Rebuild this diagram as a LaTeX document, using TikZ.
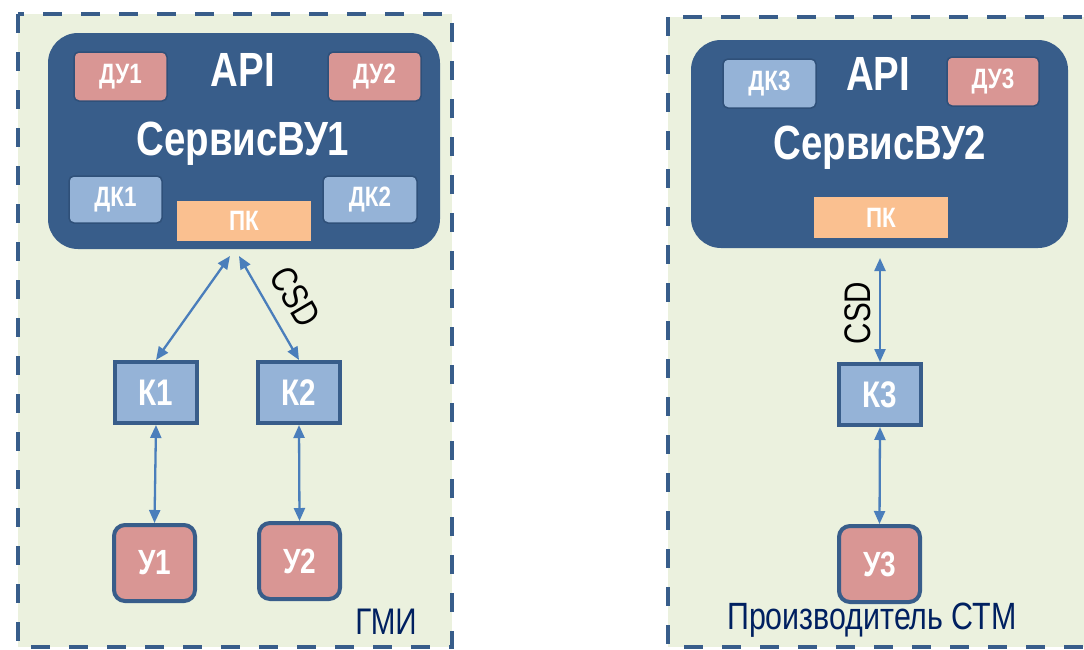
\documentclass[tikz,border=0pt]{standalone}
\usepackage{fontspec}
\setmainfont{Liberation Sans}[FakeStretch=0.8]
\usetikzlibrary{arrows.meta}
\definecolor{svc}{HTML}{385D8A}
\definecolor{svcedge}{HTML}{2F5079}
\definecolor{kblue}{HTML}{95B3D7}
\definecolor{upink}{HTML}{D99694}
\definecolor{pko}{HTML}{FAC090}
\definecolor{bgreen}{HTML}{EBF1DE}
\definecolor{arrowc}{HTML}{4A7EBB}
\definecolor{navy}{HTML}{002060}
\tikzset{
  zone/.style={fill=bgreen, draw=svc, line width=4.5pt, dash pattern=on 19pt off 19pt},
  svcbox/.style={fill=svc, rounded corners=30pt, inner sep=0pt},
  smallbox/.style={draw=svcedge, line width=1.5pt, rounded corners=5pt, text=white, inner sep=0pt,
     font=\bfseries\fontsize{28}{28}\selectfont},
  dubox/.style={smallbox, fill=upink},
  dkbox/.style={smallbox, fill=kblue},
  pkbox/.style={fill=pko, text=white, inner sep=0pt, font=\bfseries\fontsize{28}{28}\selectfont},
  kbox/.style={draw=svc, line width=4pt, fill=kblue, text=white, inner sep=0pt,
     minimum width=82pt, minimum height=61pt, font=\bfseries\fontsize{37}{37}\selectfont},
  ubox/.style={draw=svc, line width=4pt, fill=upink, text=white, inner sep=0pt, rounded corners=11pt,
     minimum width=81pt, minimum height=76pt, font=\bfseries\fontsize{35}{35}\selectfont},
  big/.style={text=white, font=\bfseries\fontsize{48}{48}\selectfont},
  link/.style={draw=arrowc, line width=2.3pt, {Triangle[length=13pt,width=11pt]}-{Triangle[length=13pt,width=11pt]}},
  lbl/.style={font=\fontsize{37}{37}\selectfont},
  zonelbl/.style={text=navy, font=\fontsize{37}{37}\selectfont},
}
\begin{document}
\begin{tikzpicture}[x=1pt,y=-1pt]
\useasboundingbox (0,0) rectangle (1084,649);
\clip (0,0) rectangle (1084,649);
% zones
\path[zone] (18,14) rectangle (452,647);
\path[zone] (668,17) rectangle (1100,647);
% left service
\node[svcbox, minimum width=392pt, minimum height=216pt] (s1) at (244,141) {};
\node[dubox, minimum width=93pt, minimum height=49pt] (du1) at (120.5,76.5) {ДУ1};
\node[dubox, minimum width=93pt, minimum height=49pt] (du2) at (374.5,76.5) {ДУ2};
\node[big] (api1) at (243,70) {API};
\node[big] (name1) at (243,144) {СервисВУ1};
\node[dkbox, minimum width=93pt, minimum height=47pt] (dk1) at (115.5,199.5) {ДК1};
\node[dkbox, minimum width=94pt, minimum height=47pt] (dk2) at (370,199.5) {ДК2};
\node[pkbox, minimum width=134pt, minimum height=40pt] (pk1) at (244,221) {ПК};
\node[kbox] (k1) at (156,392.5) {К1};
\node[kbox] (k2) at (299,392.5) {К2};
\node[ubox] (u1) at (154.5,563) {У1};
\node[ubox] (u2) at (299.5,561) {У2};
\coordinate (ap1) at (230,256);
\coordinate (ap2) at (239,256);
\draw[link] (ap1) -- (k1.north);
\draw[link] (ap2) -- (k2.north);
\draw[link] (k1.south) -- (u1.north);
\draw[link] (k2.south) -- (u2.north);
\node[lbl, rotate=-59.6] (csd1) at (295,297) {CSD};
\node[zonelbl] (gmi) at (386,622) {ГМИ};
% right service
\node[svcbox, minimum width=377pt, minimum height=208pt] (s2) at (879.5,144) {};
\node[dkbox, minimum width=93pt, minimum height=49pt] (dk3) at (769.5,83.5) {ДК3};
\node[dubox, minimum width=92pt, minimum height=49pt] (du3) at (993,81.5) {ДУ3};
\node[big] (api2) at (878,74) {API};
\node[big] (name2) at (880,148) {СервисВУ2};
\node[pkbox, minimum width=134pt, minimum height=41pt] (pk2) at (881,217.5) {ПК};
\node[kbox] (k3) at (880,394.5) {К3};
\node[ubox] (u3) at (879.5,564) {У3};
\coordinate (ap3) at (880,258);
\draw[link] (ap3) -- (k3.north);
\draw[link] (k3.south) -- (u3.north);
\node[lbl, rotate=90] (csd2) at (858,313) {CSD};
\node[zonelbl] (stm) at (872,620) {\fontsize{38}{38}\selectfont Производитель СТМ};
\end{tikzpicture}
\end{document}
